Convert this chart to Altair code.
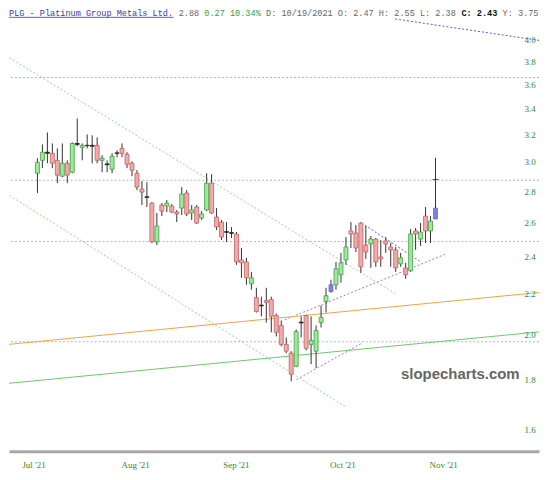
import json
import altair as alt
import pandas as pd

# ---------------- data ----------------
opens = [2.923, 3.013, 3.071, 3.063, 3.013, 2.903, 2.992, 2.930, 3.135, 3.106,
         3.121, 3.121, 3.121, 3.013, 2.988, 2.951, 3.066, 3.099, 3.056, 2.992,
         2.923, 2.816, 2.766, 2.725, 2.487, 2.712, 2.706, 2.706, 2.668, 2.693,
         2.790, 2.662, 2.700, 2.631, 2.681, 2.856, 2.637, 2.606, 2.548, 2.542,
         2.534, 2.384, 2.373, 2.254, 2.182, 2.144, 2.167, 2.172, 2.092, 2.044,
         1.955, 1.915, 1.857, 2.060, 2.092, 1.955, 1.924, 2.058, 2.162, 2.213,
         2.249, 2.302, 2.384, 2.552, 2.540, 2.600, 2.469, 2.475, 2.504, 2.401,
         2.493, 2.458, 2.441, 2.362, 2.340, 2.324, 2.552, 2.504, 2.643, 2.552,
         2.625]
closes = [2.999, 3.071, 3.063, 2.992, 2.910, 2.992, 2.910, 3.135, 3.128, 3.121,
          3.118, 3.114, 3.013, 3.028, 2.982, 3.042, 3.063, 3.063, 2.985, 2.944,
          2.829, 2.796, 2.762, 2.487, 2.582, 2.674, 2.725, 2.668, 2.656, 2.783,
          2.656, 2.681, 2.600, 2.656, 2.856, 2.662, 2.576, 2.516, 2.544, 2.538,
          2.373, 2.368, 2.286, 2.286, 2.112, 2.140, 2.157, 2.088, 2.011, 1.955,
          1.924, 1.823, 2.015, 2.056, 1.937, 1.973, 2.020, 2.083, 2.192, 2.249,
          2.335, 2.368, 2.458, 2.534, 2.452, 2.346, 2.429, 2.504, 2.373, 2.390,
          2.475, 2.441, 2.340, 2.396, 2.302, 2.534, 2.534, 2.546, 2.552, 2.612,
          2.693]
highs = [3.028, 3.128, 3.217, 3.135, 3.099, 3.135, 3.013, 3.143, 3.324, 3.135,
         3.202, 3.195, 3.180, 3.049, 3.013, 3.063, 3.085, 3.135, 3.071, 3.006,
         2.944, 2.869, 2.862, 2.731, 2.662, 2.725, 2.744, 2.719, 2.681, 2.829,
         2.809, 2.712, 2.712, 2.674, 2.923, 2.916, 2.693, 2.619, 2.606, 2.576,
         2.546, 2.452, 2.396, 2.318, 2.233, 2.187, 2.233, 2.187, 2.102, 2.068,
         1.987, 1.924, 2.025, 2.088, 2.097, 2.088, 2.044, 2.142, 2.233, 2.276,
         2.373, 2.424, 2.516, 2.606, 2.588, 2.606, 2.582, 2.522, 2.510, 2.498,
         2.516, 2.481, 2.458, 2.424, 2.368, 2.564, 2.570, 2.600, 2.700, 2.643,
         3.030]
lows = [2.790, 2.958, 2.992, 2.958, 2.856, 2.896, 2.856, 2.923, 3.114, 3.013,
        3.099, 2.992, 2.992, 2.930, 2.930, 2.923, 3.035, 3.035, 2.958, 2.903,
        2.809, 2.712, 2.700, 2.481, 2.469, 2.643, 2.668, 2.662, 2.606, 2.650,
        2.643, 2.619, 2.594, 2.619, 2.674, 2.656, 2.558, 2.498, 2.487, 2.510,
        2.357, 2.286, 2.249, 2.223, 2.107, 2.088, 2.058, 2.011, 1.992, 1.946,
        1.915, 1.793, 1.853, 1.987, 1.928, 1.866, 1.849, 2.034, 2.107, 2.208,
        2.223, 2.260, 2.357, 2.452, 2.429, 2.313, 2.390, 2.340, 2.346, 2.346,
        2.424, 2.346, 2.318, 2.346, 2.281, 2.318, 2.441, 2.464, 2.481, 2.481,
        2.625]
kinds = list("GGDRRGRGDG" "DDRGDGDRRR" "RRDRGRGRRG" "RGRGGRRRDD"
             "RRRGRDRRRR" "RRGDRGGGGB" "GGGRRRRGRR" "RRRGRGRGRG" "B")
last_price = 2.88

month_labels = ["Jul '21", "Aug '21", "Sep '21", "Oct '21", "Nov '21"]
month_pos = [-0.79, 19.65, 39.88, 61.30, 81.53]   # trading-day index
price_ticks = [1.6, 1.8, 2.0, 2.2, 2.4, 2.6, 2.8, 3.0, 3.2, 3.4, 3.6, 3.8, 4.0]
hlines = [3.66, 2.875, 2.49, 1.967]

# trend lines (index, price) end points
green_dot_ids = ["g1", "g1", "g2", "g2"]
green_dot_i = [-6.29, 72.3, -6.29, 62.08]
green_dot_p = [3.853, 2.196, 2.788, 1.686]
violet_dot_ids = ["p1", "p1", "p2", "p2"]
violet_dot_i = [49.7, 82.1, 52.06, 65.4]
violet_dot_p = [2.071, 2.418, 1.800, 1.963]
blue_dot_ids = ["p3", "p3", "b1", "b1"]
blue_dot_i = [65.8, 76.8, 71.9, 103.73]
blue_dot_p = [2.587, 2.378, 4.20, 3.974]
orange_i = [-6.29, 103.73]
orange_p = [1.954, 2.216]
green_i = [-6.29, 103.73]
green_p = [1.783, 2.020]

header = [("PLG - Platinum Group Metals Ltd.", "#3a3aa8", "normal"),
          (" 2.88", "#666666", "normal"),
          (" 0.27 10.34%", "#3d9a3d", "normal"),
          (" D: 10/19/2021 O: 2.47 H: 2.55 L: 2.38", "#666666", "normal"),
          (" C: 2.43", "#111111", "bold"),
          (" Y: 3.75", "#666666", "normal")]

# ---------------- chart ----------------
df = pd.DataFrame({"i": list(range(len(opens))), "open": opens, "close": closes,
                   "high": highs, "low": lows, "kind": kinds})

xsc = alt.Scale(domain=[-4.715, 99.80], nice=False, zero=False)
ysc = alt.Scale(type="log", domain=[1.521, 4.301], nice=False, zero=False)

label_expr = ""
for p, lab in zip(month_pos, month_labels):
    label_expr += f"datum.value < {p + 3} ? {json.dumps(lab)} : "
label_expr += '""'

xaxis = alt.Axis(values=month_pos, labelExpr=label_expr, title=None, grid=False,
                 ticks=False, domainColor="#a8a8a8", domainWidth=3,
                 labelColor="#2f8a2f", labelFont="Liberation Serif",
                 labelFontSize=9, labelPadding=9, labelFlush=False, labelOverlap=False)


def X(field):
    return alt.X(field, type="quantitative", scale=xsc, axis=xaxis)


def Y(field):
    return alt.Y(field, type="quantitative", scale=ysc, axis=None)


base = alt.Chart(df)

wicks = base.mark_rule(color="#333333", strokeWidth=1).encode(
    x=X("i"), y=Y("low"), y2="high")

bodies = base.mark_bar(width=4, strokeWidth=0.8).encode(
    x=X("i"), y=Y("open"), y2="close",
    fill=alt.Fill("kind:N", legend=None,
                  scale=alt.Scale(domain=["G", "R", "D", "B"],
                                  range=["#98ec98", "#f5a8a8", "#333333", "#8080e6"])),
    stroke=alt.Stroke("kind:N", legend=None,
                      scale=alt.Scale(domain=["G", "R", "D", "B"],
                                      range=["#4a9a4a", "#bd6464", "#222222", "#6a6ad6"])))

last_tick = alt.Chart(pd.DataFrame({"i": [len(opens) - 1], "p": [last_price]})).mark_tick(
    orient="horizontal", size=6, thickness=1, color="#111111").encode(
    x=X("i"), y=Y("p"))

hl = alt.Chart(pd.DataFrame({"p": hlines})).mark_rule(
    color="#b4b4b4", strokeDash=[2, 2], strokeWidth=1).encode(y=Y("p"))


def line_layer(ids, xs, ps, color, dash):
    kw = dict(strokeWidth=1, clip=True, color=color)
    if dash:
        kw["strokeDash"] = [2, 2]
    return alt.Chart(pd.DataFrame({"id": ids, "i": xs, "p": ps})).mark_line(**kw).encode(
        x=X("i"), y=Y("p"), detail="id:N")


lines = [
    line_layer(green_dot_ids, green_dot_i, green_dot_p, "#8fdc8f", True),
    line_layer(violet_dot_ids, violet_dot_i, violet_dot_p, "#a376e6", True),
    line_layer(blue_dot_ids, blue_dot_i, blue_dot_p, "#5c5cd8", True),
    line_layer(["o", "o"], orange_i, orange_p, "#f2a24a", False),
    line_layer(["s", "s"], green_i, green_p, "#6cc96c", False),
]

ylabels = alt.Chart(pd.DataFrame({"v": price_ticks})).mark_text(
    font="Liberation Serif", fontSize=9, color="#2f8a2f", align="center",
    baseline="middle").encode(
    x=alt.value(523), y=Y("v"), text=alt.Text("v:Q", format=".1f"))

watermark = alt.Chart(pd.DataFrame({"t": ["slopecharts.com"]})).mark_text(
    font="Liberation Sans", fontWeight="bold", fontSize=15, color="#666666",
    align="center", baseline="middle").encode(
    x=alt.value(453), y=alt.value(367), text="t:N")

char_w = 0.6 * 8.6
head_layers = []
pos = 0
for txt, col, wt in header:
    lead = len(txt) - len(txt.lstrip(" "))
    head_layers.append(
        alt.Chart(pd.DataFrame({"t": [txt.strip()]})).mark_text(
            font="Liberation Mono", fontSize=8.6, color=col, fontWeight=wt,
            align="left", baseline="top").encode(
            x=alt.value((pos + lead) * char_w), y=alt.value(0), text="t:N"))
    pos += len(txt)

underline = alt.Chart(pd.DataFrame({"a": [0]})).mark_rule(
    color="#3a3aa8", strokeWidth=0.8).encode(
    x=alt.value(0), x2=alt.value(len(header[0][0]) * char_w), y=alt.value(8.5))

chart = alt.layer(hl, *lines, wicks, bodies, last_tick, ylabels, watermark,
                  underline, *head_layers).properties(
    width=532, height=444,
    padding={"left": 0, "right": 0, "top": 0, "bottom": 0},
    background="white"
).configure_view(stroke=None)

chart.save("out.html", embed_options={"renderer": "svg", "actions": False})
